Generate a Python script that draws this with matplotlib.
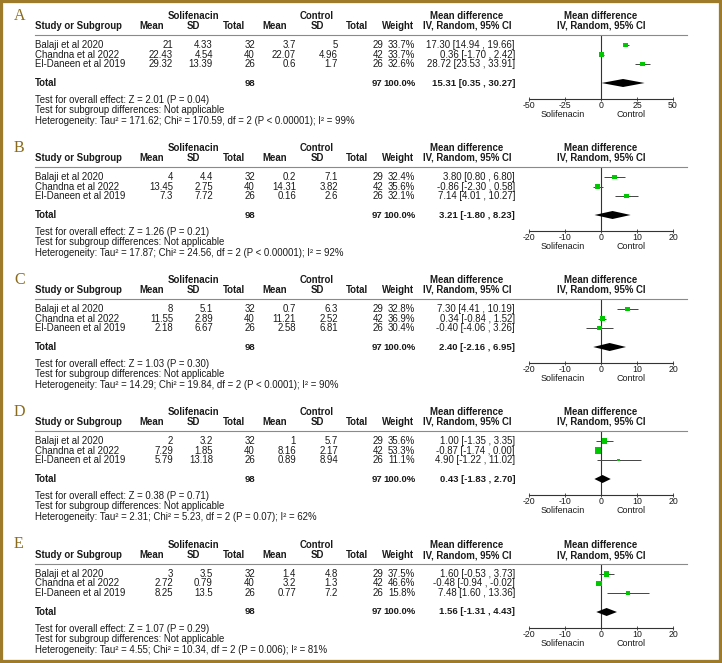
import matplotlib
matplotlib.use("Agg")
import matplotlib.pyplot as plt
from matplotlib.patches import Rectangle
from matplotlib.lines import Line2D

W, H = 722, 663

# ---------------- data ----------------
studies = ["Balaji et al 2020", "Chandna et al 2022", "El-Daneen et al 2019"]
sol_n = [32, 40, 26]
ctl_n = [29, 42, 26]
sol_total_n = 98
ctl_total_n = 97
total_weight = "100.0%"
panel_letters = ["A", "B", "C", "D", "E"]

A_sol_mean = [21, 22.43, 29.32]
A_sol_sd = [4.33, 4.54, 13.39]
A_ctl_mean = [3.7, 22.07, 0.6]
A_ctl_sd = [5, 4.96, 1.7]
A_weight = [33.7, 33.7, 32.6]
A_md = [17.30, 0.36, 28.72]
A_lo = [14.94, -1.70, 23.53]
A_hi = [19.66, 2.42, 33.91]
A_total = [15.31, 0.35, 30.27]
A_z = "Test for overall effect: Z = 2.01 (P = 0.04)"
A_het = "Heterogeneity: Tau² = 171.62; Chi² = 170.59, df = 2 (P < 0.00001); I² = 99%"
A_ticks = [-50, -25, 0, 25, 50]

B_sol_mean = [4, 13.45, 7.3]
B_sol_sd = [4.4, 2.75, 7.72]
B_ctl_mean = [0.2, 14.31, 0.16]
B_ctl_sd = [7.1, 3.82, 2.6]
B_weight = [32.4, 35.6, 32.1]
B_md = [3.80, -0.86, 7.14]
B_lo = [0.80, -2.30, 4.01]
B_hi = [6.80, 0.58, 10.27]
B_total = [3.21, -1.80, 8.23]
B_z = "Test for overall effect: Z = 1.26 (P = 0.21)"
B_het = "Heterogeneity: Tau² = 17.87; Chi² = 24.56, df = 2 (P < 0.00001); I² = 92%"
B_ticks = [-20, -10, 0, 10, 20]

C_sol_mean = [8, 11.55, 2.18]
C_sol_sd = [5.1, 2.89, 6.67]
C_ctl_mean = [0.7, 11.21, 2.58]
C_ctl_sd = [6.3, 2.52, 6.81]
C_weight = [32.8, 36.9, 30.4]
C_md = [7.30, 0.34, -0.40]
C_lo = [4.41, -0.84, -4.06]
C_hi = [10.19, 1.52, 3.26]
C_total = [2.40, -2.16, 6.95]
C_z = "Test for overall effect: Z = 1.03 (P = 0.30)"
C_het = "Heterogeneity: Tau² = 14.29; Chi² = 19.84, df = 2 (P < 0.0001); I² = 90%"
C_ticks = [-20, -10, 0, 10, 20]

D_sol_mean = [2, 7.29, 5.79]
D_sol_sd = [3.2, 1.85, 13.18]
D_ctl_mean = [1, 8.16, 0.89]
D_ctl_sd = [5.7, 2.17, 8.94]
D_weight = [35.6, 53.3, 11.1]
D_md = [1.00, -0.87, 4.90]
D_lo = [-1.35, -1.74, -1.22]
D_hi = [3.35, 0.00, 11.02]
D_total = [0.43, -1.83, 2.70]
D_z = "Test for overall effect: Z = 0.38 (P = 0.71)"
D_het = "Heterogeneity: Tau² = 2.31; Chi² = 5.23, df = 2 (P = 0.07); I² = 62%"
D_ticks = [-20, -10, 0, 10, 20]

E_sol_mean = [3, 2.72, 8.25]
E_sol_sd = [3.5, 0.79, 13.5]
E_ctl_mean = [1.4, 3.2, 0.77]
E_ctl_sd = [4.8, 1.3, 7.2]
E_weight = [37.5, 46.6, 15.8]
E_md = [1.60, -0.48, 7.48]
E_lo = [-0.53, -0.94, 1.60]
E_hi = [3.73, -0.02, 13.36]
E_total = [1.56, -1.31, 4.43]
E_z = "Test for overall effect: Z = 1.07 (P = 0.29)"
E_het = "Heterogeneity: Tau² = 4.55; Chi² = 10.34, df = 2 (P = 0.006); I² = 81%"
E_ticks = [-20, -10, 0, 10, 20]

subgroup_text = "Test for subgroup differences: Not applicable"

panels = [
    dict(sm=A_sol_mean, ssd=A_sol_sd, cm=A_ctl_mean, csd=A_ctl_sd, w=A_weight,
         md=A_md, lo=A_lo, hi=A_hi, tot=A_total, z=A_z, het=A_het, ticks=A_ticks),
    dict(sm=B_sol_mean, ssd=B_sol_sd, cm=B_ctl_mean, csd=B_ctl_sd, w=B_weight,
         md=B_md, lo=B_lo, hi=B_hi, tot=B_total, z=B_z, het=B_het, ticks=B_ticks),
    dict(sm=C_sol_mean, ssd=C_sol_sd, cm=C_ctl_mean, csd=C_ctl_sd, w=C_weight,
         md=C_md, lo=C_lo, hi=C_hi, tot=C_total, z=C_z, het=C_het, ticks=C_ticks),
    dict(sm=D_sol_mean, ssd=D_sol_sd, cm=D_ctl_mean, csd=D_ctl_sd, w=D_weight,
         md=D_md, lo=D_lo, hi=D_hi, tot=D_total, z=D_z, het=D_het, ticks=D_ticks),
    dict(sm=E_sol_mean, ssd=E_sol_sd, cm=E_ctl_mean, csd=E_ctl_sd, w=E_weight,
         md=E_md, lo=E_lo, hi=E_hi, tot=E_total, z=E_z, het=E_het, ticks=E_ticks),
]

# ---------------- layout / style ----------------
FONT = "Liberation Sans"
FS = 6.9
BFS = 6.9
TBFS = 6.8
TFS = 6.3
LFS = 6.5
GOLD = "#9E7B2A"
LETTER = "#8A6A1C"
GREEN = "#00C800"
TXT = "#1a1a1a"
offsets = [0, 132, 264, 396, 529]

fig = plt.figure(figsize=(W / 100, H / 100), dpi=100)
fig.patch.set_facecolor("white")


def fx(x):
    return x / W


def fy(y):
    return 1 - y / H


def txt(x, y, s, ha="left", bold=False, fs=None):
    if fs is None:
        fs = BFS if bold else FS
    fig.text(fx(x), fy(y), s, ha=ha, va="center", fontsize=fs,
             fontweight="bold" if bold else "normal", family=FONT, color=TXT)


def fmt(v):
    return f"{v:g}"


row_px = [45, 54.5, 64]
total_px = 83
ROW = 9.5

for k, p in enumerate(panels):
    o = offsets[k]
    # panel letter
    fig.text(fx(14), fy(15.5 + o), panel_letters[k], ha="left", va="center",
             fontsize=11.5, family="Liberation Serif", color=LETTER)
    # headers
    txt(193, 16 + o, "Solifenacin", ha="center", bold=True)
    txt(317, 16 + o, "Control", ha="center", bold=True)
    txt(467, 16 + o, "Mean difference", ha="center", bold=True)
    txt(601, 16 + o, "Mean difference", ha="center", bold=True)
    txt(35, 26 + o, "Study or Subgroup", bold=True)
    for cx, s in [(152, "Mean"), (193, "SD"), (234, "Total"), (275, "Mean"),
                  (317, "SD"), (357, "Total"), (398, "Weight")]:
        txt(cx, 26 + o, s, ha="center", bold=True)
    txt(467, 26 + o, "IV, Random, 95% CI", ha="center", bold=True)
    txt(601, 26 + o, "IV, Random, 95% CI", ha="center", bold=True)
    fig.add_artist(Line2D([fx(35), fx(687)], [fy(35 + o)] * 2, color="#8a8a8a", lw=0.8))

    # study rows
    for i in range(3):
        y = row_px[i] + o
        txt(35, y, studies[i])
        txt(173, y, fmt(p["sm"][i]), ha="right")
        txt(213, y, fmt(p["ssd"][i]), ha="right")
        txt(255, y, str(sol_n[i]), ha="right")
        txt(296, y, fmt(p["cm"][i]), ha="right")
        txt(338, y, fmt(p["csd"][i]), ha="right")
        txt(383, y, str(ctl_n[i]), ha="right")
        txt(415, y, f"{p['w'][i]:.1f}%", ha="right")
        txt(515, y, f"{p['md'][i]:.2f} [{p['lo'][i]:.2f} , {p['hi'][i]:.2f}]", ha="right")
    # total row
    y = total_px + o
    txt(35, y, "Total", bold=True)
    txt(255, y, str(sol_total_n), ha="right", bold=True, fs=TBFS)
    txt(382, y, str(ctl_total_n), ha="right", bold=True, fs=TBFS)
    txt(416, y, total_weight, ha="right", bold=True, fs=TBFS)
    t = p["tot"]
    txt(515, y, f"{t[0]:.2f} [{t[1]:.2f} , {t[2]:.2f}]", ha="right", bold=True, fs=TBFS)
    # tests
    txt(35, 100 + o, p["z"])
    txt(35, 110 + o, subgroup_text)
    txt(35, 121 + o, p["het"])

    # forest plot axes
    ax = fig.add_axes([fx(529), fy(99 + o), (673 - 529) / W, 64 / H])
    ax.patch.set_alpha(0)
    lim = p["ticks"][-1]
    ax.set_xlim(-lim, lim)
    ax.set_ylim((99 - 45) / ROW, (35 - 45) / ROW)
    ys = [0, 1, 2]
    ax.hlines(ys, p["lo"], p["hi"], color="#444444", lw=0.7, zorder=2)
    sizes = [(0.85 * (wt ** 0.5) * 0.72) ** 2 for wt in p["w"]]
    ax.scatter(p["md"], ys, marker="s", s=sizes, color=GREEN, edgecolors="none", zorder=3)
    ty = (total_px - 45) / ROW
    dh = 4.0 / ROW
    ax.fill([t[1], t[0], t[2], t[0]], [ty, ty - dh, ty, ty + dh], color="black", lw=0, zorder=3)
    ax.axvline(0, color="#333333", lw=0.8, zorder=1)
    for sp in ["top", "right", "left"]:
        ax.spines[sp].set_visible(False)
    ax.spines["bottom"].set_color("#333333")
    ax.spines["bottom"].set_linewidth(0.8)
    ax.set_yticks([])
    ax.set_xticks(p["ticks"])
    ax.set_xticklabels([str(v) for v in p["ticks"]], fontsize=TFS, family=FONT, color=TXT)
    ax.tick_params(axis="x", direction="inout", length=3.5, width=0.6, pad=0.0, color="#333333")
    txt(563, 114.5 + o, "Solifenacin", ha="center", fs=LFS)
    txt(631, 114.5 + o, "Control", ha="center", fs=LFS)

# border
fig.add_artist(Rectangle((0, 0), 1, 1, transform=fig.transFigure, fill=False,
                         ec=GOLD, lw=4.5, clip_on=False))

fig.savefig("out.png", dpi=100)
